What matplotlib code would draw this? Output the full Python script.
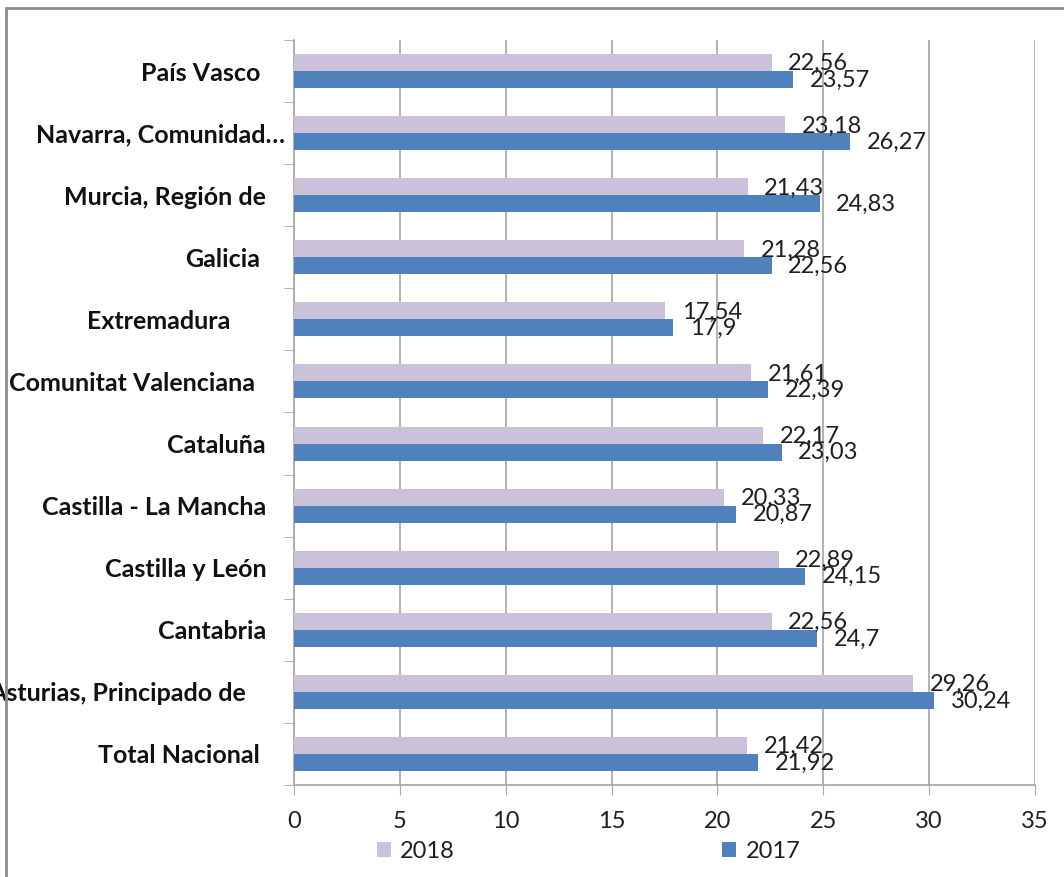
import numpy as np
import matplotlib.pyplot as plt
from matplotlib.patches import Rectangle
from matplotlib.transforms import ScaledTranslation

plt.rcParams['font.family'] = ['Lato', 'DejaVu Sans']

# datos (de abajo hacia arriba)
regiones = ["Total Nacional", "Asturias, Principado de", "Cantabria", "Castilla y León",
            "Castilla - La Mancha", "Cataluña", "Comunitat Valenciana", "Extremadura",
            "Galicia", "Murcia, Región de", "Navarra, Comunidad…", "País Vasco"]
valores_2018 = [21.42, 29.26, 22.56, 22.89, 20.33, 22.17, 21.61, 17.54, 21.28, 21.43, 23.18, 22.56]
valores_2017 = [21.92, 30.24, 24.7, 24.15, 20.87, 23.03, 22.39, 17.9, 22.56, 24.83, 26.27, 23.57]

# desplazamiento (px) a la izquierda de cada etiqueta de categoría
despl_etiquetas = [6, 20, 0, 0, 0, 1, 11, 36, 6, 0, -19, 6]

COLOR_2018 = "#CCC1DA"
COLOR_2017 = "#4F81BD"
GRIS = "#A6A6A6"
TEXTO = "#1f1f1f"


def fmt(v):
    s = f"{v:.2f}".rstrip("0").rstrip(".")
    return s.replace(".", ",")


fig = plt.figure(figsize=(10.64, 8.77), dpi=100)
ax = fig.add_axes([0.2763, 0.1049, 0.6964, 0.8495])

# marco exterior
fig.patches.append(Rectangle((6 / 1064, -0.02), 1.05, 1 - 8 / 877 + 0.02,
                             transform=fig.transFigure, fill=False,
                             edgecolor="#8C8C8C", linewidth=2, zorder=5))

y = np.arange(len(regiones))
h = 0.274
ax.barh(y + h / 2, valores_2018, height=h, color=COLOR_2018, label="2018", zorder=3)
ax.barh(y - h / 2, valores_2017, height=h, color=COLOR_2017, label="2017", zorder=3)

for yi, v in zip(y, valores_2018):
    ax.annotate(fmt(v), (v, yi + h / 2 - 0.02), xytext=(12, 0), textcoords="offset points",
                va="center", ha="left", fontsize=17, color=TEXTO)
for yi, v in zip(y, valores_2017):
    ax.annotate(fmt(v), (v, yi - h / 2 - 0.01), xytext=(12, 0), textcoords="offset points",
                va="center", ha="left", fontsize=17, color=TEXTO)

ax.set_xlim(0, 35)
ax.set_ylim(-0.5, len(regiones) - 0.5)
ax.set_xticks(np.arange(0, 36, 5))
ax.tick_params(axis="x", labelsize=17, length=7, color=GRIS, pad=12, labelcolor=TEXTO)

# etiquetas de categoría sin marcas; marcas en los límites
ax.set_yticks(y)
ax.set_yticklabels(regiones, fontweight="bold", fontsize=18, color="#111111")
ax.tick_params(axis="y", length=0, pad=20)
ax.set_yticks(np.arange(-0.5, len(regiones), 1), minor=True)
ax.tick_params(axis="y", which="minor", length=7, color=GRIS)
for lbl, d in zip(ax.get_yticklabels(), despl_etiquetas):
    lbl.set_transform(lbl.get_transform() + ScaledTranslation(-d / 100, 0, fig.dpi_scale_trans))

ax.grid(axis="x", color=GRIS, linewidth=1.2, zorder=0)
ax.set_axisbelow(True)
for s in ["top", "right"]:
    ax.spines[s].set_visible(False)
for s in ["left", "bottom"]:
    ax.spines[s].set_color(GRIS)
    ax.spines[s].set_linewidth(1.2)

fig.legend(loc="center", bbox_to_anchor=(0.553, 0.029), ncol=2, frameon=False,
           fontsize=17, handlelength=0.6, handleheight=0.6, handletextpad=0.4,
           columnspacing=11.3, labelcolor=TEXTO)

fig.savefig("out.png", dpi=100)
